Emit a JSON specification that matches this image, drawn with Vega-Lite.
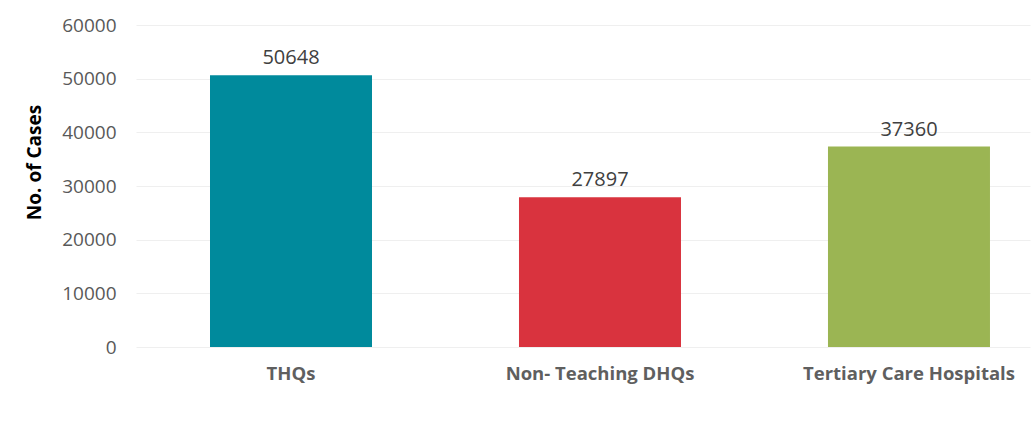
{
  "$schema": "https://vega.github.io/schema/vega-lite/v6.json",
  "width": 894,
  "height": 322,
  "autosize": {"type": "none"},
  "padding": {"left": 136, "top": 25, "right": 2, "bottom": 75},
  "background": "white",
  "data": {"values": [
    {"category": "THQs", "cases": 50648},
    {"category": "Non- Teaching DHQs", "cases": 27897},
    {"category": "Tertiary Care Hospitals", "cases": 37360}
  ]},
  "config": {
    "view": {"stroke": null},
    "font": "Open Sans"
  },
  "encoding": {
    "x": {
      "field": "category", "type": "nominal", "sort": null,
      "scale": {"paddingInner": 0.4757, "paddingOuter": 0.1845, "align": 0.649},
      "axis": {
        "title": null, "labelAngle": 0, "domain": false, "ticks": false,
        "labelPadding": 17, "labelFontSize": 18.5, "labelFontWeight": "bold",
        "labelColor": "#5f5f5f", "labelFont": "Open Sans", "labelLimit": 0
      }
    },
    "y": {
      "field": "cases", "type": "quantitative",
      "scale": {"domain": [0, 60000]},
      "axis": {
        "title": "No. of Cases", "values": [0, 10000, 20000, 30000, 40000, 50000, 60000],
        "format": "d", "domain": false, "ticks": false, "labelPadding": 20,
        "labelFontSize": 19, "labelColor": "#595959", "labelFont": "Open Sans",
        "gridColor": "#efefef", "gridWidth": 1,
        "titleFontSize": 19, "titleFontWeight": "bold", "titleColor": "#000000",
        "titleFont": "Open Sans", "titleAngle": 270, "titleX": -92, "titleY": 137,
        "titleAlign": "center", "titleBaseline": "bottom"
      }
    }
  },
  "layer": [
    {
      "mark": {"type": "bar"},
      "encoding": {
        "color": {
          "field": "category", "type": "nominal", "sort": null, "legend": null,
          "scale": {
            "domain": ["THQs", "Non- Teaching DHQs", "Tertiary Care Hospitals"],
            "range": ["#008A9C", "#D9333E", "#9BB553"]
          }
        }
      }
    },
    {
      "mark": {"type": "text", "baseline": "alphabetic", "dy": -11, "fontSize": 20, "color": "#404040", "font": "Open Sans"},
      "encoding": {"text": {"field": "cases", "type": "quantitative", "format": "d"}}
    }
  ]
}
